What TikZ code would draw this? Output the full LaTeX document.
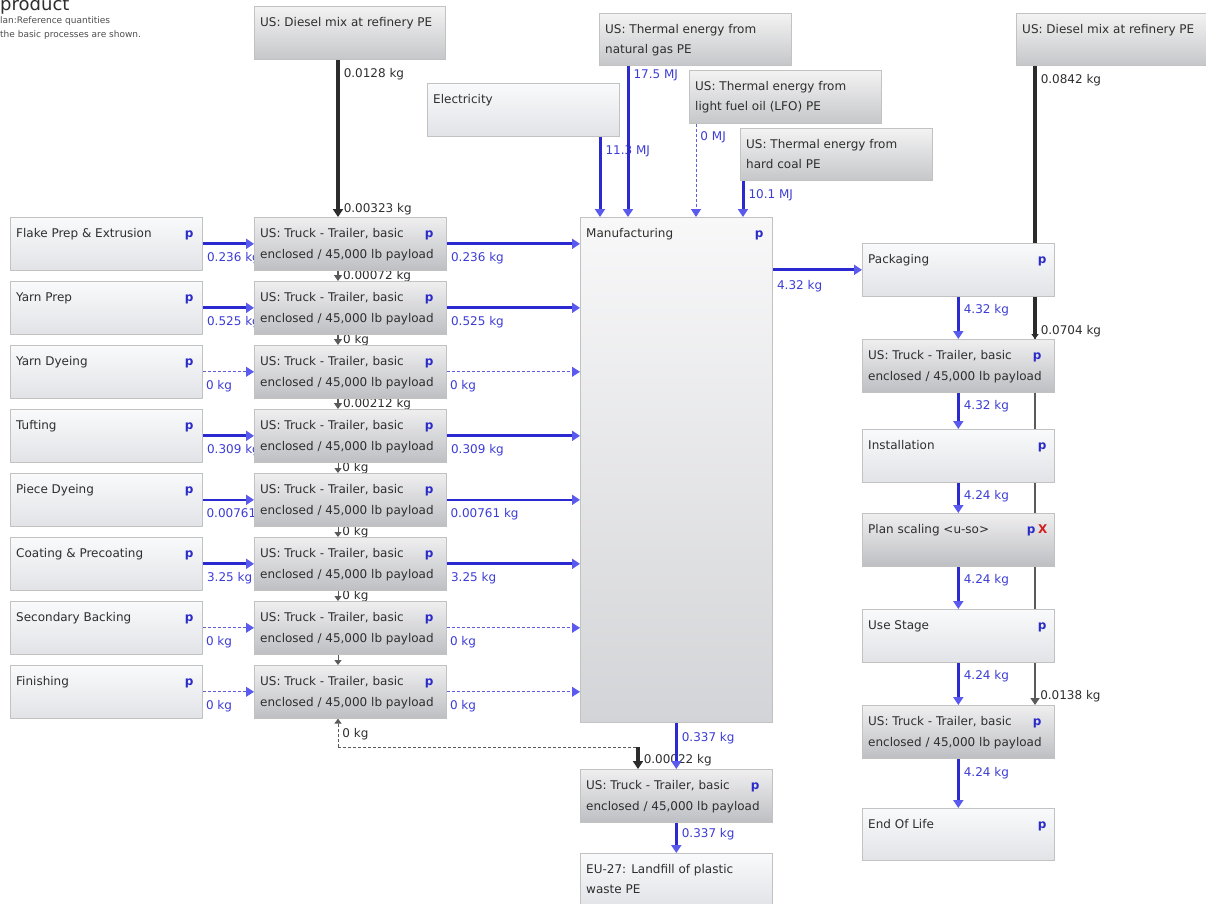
\documentclass[tikz,border=0pt]{standalone}
\usepackage{fontspec}
\setmainfont{DejaVu Sans}
\usetikzlibrary{arrows.meta,calc}
\pgfdeclarelayer{bg}
\pgfsetlayers{bg,main}
\definecolor{txtc}{HTML}{2E2E2E}
\definecolor{pblue}{HTML}{2B2BC8}
\definecolor{flow}{HTML}{2A2AD0}
\definecolor{tipblue}{HTML}{5A5AEE}
\definecolor{lblblue}{HTML}{3C3CD6}
\definecolor{dsl}{HTML}{2C2C2C}
\definecolor{dsl2}{HTML}{5A5A5A}
\definecolor{bord}{HTML}{C2C2C2}
\definecolor{xred}{HTML}{D02020}
\definecolor{procT}{HTML}{F9FAFB}
\definecolor{procB}{HTML}{E1E3E7}
\definecolor{trkT}{HTML}{EFEFF0}
\definecolor{trkB}{HTML}{BEBFC3}
\definecolor{mfgT}{HTML}{F8F8F9}
\definecolor{mfgB}{HTML}{D3D4D7}
\definecolor{dslT}{HTML}{F3F3F3}
\definecolor{dslB}{HTML}{C6C7CA}
\newcommand\mkbox[6]{\node[#6, minimum width=#4, minimum height=#5] (#1) at (#2,#3) {};}
\newcommand\Lone[3]{\node[tx] at ($(#1.north west)+(6,#2)$) {#3};}
\newcommand\Pmark[2]{\node[pp] at ($(#1.north east)+(-#2,20)$) {p};}
\begin{document}
\begin{tikzpicture}[x=1pt,y=-1pt,
  bxbase/.style={draw=bord, line width=0.6pt, anchor=north west, inner sep=0},
  procbx/.style={bxbase, top color=procT, bottom color=procB},
  trkbx/.style={bxbase, top color=trkT, bottom color=trkB},
  mfgbx/.style={bxbase, top color=mfgT, bottom color=mfgB},
  dslbx/.style={bxbase, top color=dslT, bottom color=dslB},
  tx/.style={anchor=base west, inner sep=0, text=txtc, font=\fontsize{12}{14}\selectfont},
  pp/.style={anchor=base east, inner sep=0, text=pblue, font=\bfseries\fontsize{12}{14}\selectfont},
  lbB/.style={text=lblblue, font=\fontsize{12}{14}\selectfont},
  lbD/.style={text=txtc, font=\fontsize{12}{14}\selectfont},
  atS/.style={pos=0, anchor=base west, xshift=4pt, yshift=-17pt, inner sep=0},
  atE/.style={pos=1, anchor=base west, xshift=4pt, yshift=5pt, inner sep=0},
  atH/.style={pos=0, anchor=base west, xshift=3pt, yshift=-18pt, inner sep=0},
  fl/.style={draw=flow, line width=3pt, -{Triangle[width=10pt,length=8pt,color=tipblue]}, nodes={lbB}},
  flthin/.style={fl, line width=2pt},
  flZ/.style={draw=flow!75!white, line width=0.9pt, dash pattern=on 3pt off 2pt, -{Triangle[width=10pt,length=8pt,color=tipblue]}, nodes={lbB}},
  dsA/.style={draw=dsl, line width=3.5pt, -{Triangle[width=10pt,length=8pt,color=dsl]}, nodes={lbD}},
  dsB/.style={draw=dsl2, line width=2.5pt, -{Triangle[width=9pt,length=7pt,color=dsl2]}, nodes={lbD}},
  dsC/.style={draw=dsl2, line width=2.2pt, -{Triangle[width=8pt,length=6pt,color=dsl2]}, nodes={lbD}},
  dsT/.style={draw=dsl2, line width=0.9pt, -{Triangle[width=7pt,length=5pt,color=dsl2]}, nodes={lbD}},
  dsZ/.style={draw=dsl2, line width=0.9pt, dash pattern=on 3pt off 2pt, nodes={lbD}},
]
\useasboundingbox (0,0) rectangle (1206,903);

% ---------- title fragments ----------
\node[anchor=base west, inner sep=0, text=txtc, font=\fontsize{18}{20}\selectfont] (ttl) at (0,10) {product};
\node[anchor=base west, inner sep=0, text=txtc!85, font=\fontsize{9}{10}\selectfont] (ttl2) at (0,23) {lan:Reference quantities};
\node[anchor=base west, inner sep=0, text=txtc!85, font=\fontsize{9}{10}\selectfont] (ttl3) at (0,37) {the basic processes are shown.};

% ---------- left process boxes ----------
\mkbox{flake}{10}{217}{192}{53}{procbx}
\mkbox{yprep}{10}{281}{192}{53}{procbx}
\mkbox{ydye}{10}{345}{192}{53}{procbx}
\mkbox{tuft}{10}{409}{192}{53}{procbx}
\mkbox{piece}{10}{473}{192}{53}{procbx}
\mkbox{coat}{10}{537}{192}{53}{procbx}
\mkbox{second}{10}{601}{192}{53}{procbx}
\mkbox{finish}{10}{665}{192}{53}{procbx}
\Lone{flake}{20}{Flake Prep \& Extrusion}\Pmark{flake}{9}
\Lone{yprep}{20}{Yarn Prep}\Pmark{yprep}{9}
\Lone{ydye}{20}{Yarn Dyeing}\Pmark{ydye}{9}
\Lone{tuft}{20}{Tufting}\Pmark{tuft}{9}
\Lone{piece}{20}{Piece Dyeing}\Pmark{piece}{9}
\Lone{coat}{20}{Coating \& Precoating}\Pmark{coat}{9}
\Lone{second}{20}{Secondary Backing}\Pmark{second}{9}
\Lone{finish}{20}{Finishing}\Pmark{finish}{9}

% ---------- trucks (left) ----------
\foreach \i/\y in {1/217,2/281,3/345,4/409,5/473,6/537,7/601,8/665}{
  \mkbox{t\i}{254}{\y}{192}{53}{trkbx}
  \Lone{t\i}{20}{US: Truck - Trailer, basic}
  \Lone{t\i}{41}{enclosed / 45,000 lb payload}
  \Pmark{t\i}{13}
}

% ---------- top sources ----------
\mkbox{dieselL}{254}{6}{191}{53}{dslbx}
\Lone{dieselL}{20}{US: Diesel mix at refinery PE}
\mkbox{elec}{427}{83}{192}{53}{procbx}
\Lone{elec}{20}{Electricity}
\mkbox{ng}{599}{13}{192}{52}{dslbx}
\Lone{ng}{20}{US: Thermal energy from}
\Lone{ng}{40}{natural gas PE}
\mkbox{lfo}{689}{70}{192}{53}{dslbx}
\Lone{lfo}{20}{US: Thermal energy from}
\Lone{lfo}{40}{light fuel oil (LFO) PE}
\mkbox{hc}{740}{128}{192}{52}{dslbx}
\Lone{hc}{20}{US: Thermal energy from}
\Lone{hc}{40}{hard coal PE}
\mkbox{dieselR}{1016}{13}{192}{52}{dslbx}
\Lone{dieselR}{20}{US: Diesel mix at refinery PE}

% ---------- manufacturing ----------
\mkbox{manuf}{580}{217}{192}{505}{mfgbx}
\Lone{manuf}{20}{Manufacturing}\Pmark{manuf}{9}

% ---------- bottom ----------
\mkbox{btruck}{580}{769}{192}{53}{trkbx}
\Lone{btruck}{20}{US: Truck - Trailer, basic}
\Lone{btruck}{41}{enclosed / 45,000 lb payload}
\Pmark{btruck}{13}
\mkbox{landfill}{580}{853}{192}{53}{procbx}
\Lone{landfill}{20}{EU-27: Landfill of plastic}
\Lone{landfill}{40}{waste PE}

% ---------- right column ----------
\mkbox{pack}{862}{243}{192}{53}{procbx}
\Lone{pack}{20}{Packaging}\Pmark{pack}{8}
\mkbox{tr1}{862}{339}{192}{53}{trkbx}
\Lone{tr1}{20}{US: Truck - Trailer, basic}
\Lone{tr1}{41}{enclosed / 45,000 lb payload}
\Pmark{tr1}{13}
\mkbox{inst}{862}{429}{192}{53}{procbx}
\Lone{inst}{20}{Installation}\Pmark{inst}{8}
\mkbox{plan}{862}{513}{192}{53}{trkbx}
\Lone{plan}{20}{Plan scaling <u-so>}
\node[pp] (planp) at ($(plan.north east)+(-19,20)$) {p};
\node[anchor=base east, inner sep=0, text=xred, font=\bfseries\fontsize{12}{14}\selectfont] (planx) at ($(plan.north east)+(-7,20)$) {X};
\mkbox{use}{862}{609}{192}{53}{procbx}
\Lone{use}{20}{Use Stage}\Pmark{use}{8}
\mkbox{tr2}{862}{705}{192}{53}{trkbx}
\Lone{tr2}{20}{US: Truck - Trailer, basic}
\Lone{tr2}{41}{enclosed / 45,000 lb payload}
\Pmark{tr2}{13}
\mkbox{eol}{862}{808}{192}{52}{procbx}
\Lone{eol}{20}{End Of Life}\Pmark{eol}{8}

% ---------- helper x positions ----------
\coordinate (xd) at (338,0);
\coordinate (xe) at (600,0);
\coordinate (xg) at (628,0);
\coordinate (xl) at (696,0);
\coordinate (xh) at (743,0);
\coordinate (xr) at (1035,0);
\coordinate (c1) at (338,747);
\coordinate (c2) at (638,747);

\begin{pgfonlayer}{bg}
% process -> truck
\draw[fl] (flake.east) -- (t1.west) node[atH]{0.236 kg};
\draw[fl] (yprep.east) -- (t2.west) node[atH]{0.525 kg};
\draw[flZ] (ydye.east) -- (t3.west) node[atH]{0 kg};
\draw[fl] (tuft.east) -- (t4.west) node[atH]{0.309 kg};
\draw[flthin] (piece.east) -- (t5.west) node[atH]{0.00761 kg};
\draw[fl] (coat.east) -- (t6.west) node[atH]{3.25 kg};
\draw[flZ] (second.east) -- (t7.west) node[atH]{0 kg};
\draw[flZ] (finish.east) -- (t8.west) node[atH]{0 kg};
% truck -> manufacturing
\draw[fl] (t1.east) -- (t1.east -| manuf.west) node[atH]{0.236 kg};
\draw[fl] (t2.east) -- (t2.east -| manuf.west) node[atH]{0.525 kg};
\draw[flZ] (t3.east) -- (t3.east -| manuf.west) node[atH]{0 kg};
\draw[fl] (t4.east) -- (t4.east -| manuf.west) node[atH]{0.309 kg};
\draw[flthin] (t5.east) -- (t5.east -| manuf.west) node[atH]{0.00761 kg};
\draw[fl] (t6.east) -- (t6.east -| manuf.west) node[atH]{3.25 kg};
\draw[flZ] (t7.east) -- (t7.east -| manuf.west) node[atH]{0 kg};
\draw[flZ] (t8.east) -- (t8.east -| manuf.west) node[atH]{0 kg};
% energy
\draw[fl] (elec.south -| xe) -- (manuf.north -| xe) node[atS, yshift=-1pt]{11.3 MJ};
\draw[fl] (ng.south -| xg) -- (manuf.north -| xg) node[atS, yshift=4pt]{17.5 MJ};
\draw[flZ] (lfo.south -| xl) -- (manuf.north -| xl) node[atS]{0 MJ};
\draw[fl] (hc.south -| xh) -- (manuf.north -| xh) node[atS, yshift=-1pt]{10.1 MJ};
% diesel left chain
\draw[dsA] (dieselL.south -| xd) -- (t1.north -| xd) node[atS, yshift=-1pt]{0.0128 kg} node[atE]{0.00323 kg};
\draw[dsC] (t1.south -| xd) -- (t2.north -| xd) node[atE, yshift=-3pt]{0.00072 kg};
\draw[dsC] (t2.south -| xd) -- (t3.north -| xd) node[atE, yshift=-3pt]{0 kg};
\draw[dsC] (t3.south -| xd) -- (t4.north -| xd) node[atE, yshift=-3pt]{0.00212 kg};
\draw[dsT] (t4.south -| xd) -- (t5.north -| xd) node[atE, yshift=-3pt]{0 kg};
\draw[dsT] (t5.south -| xd) -- (t6.north -| xd) node[atE, yshift=-3pt]{0 kg};
\draw[dsT] (t6.south -| xd) -- (t7.north -| xd) node[atE, yshift=-3pt]{0 kg};
\draw[dsT] (t7.south -| xd) -- (t8.north -| xd);
\draw[dsZ, -{Triangle[width=7pt,length=5pt,color=dsl2]}] (c1) -- (t8.south -| c1) node[pos=0, anchor=base west, inner sep=0, xshift=4pt, yshift=10pt]{0 kg};
\draw[dsZ] (c1) -- (c2);
\draw[dsA] (c2) -- (btruck.north -| c2) node[atE, yshift=1pt]{0.00022 kg};
% manufacturing outputs
\draw[fl] (pack.west -| manuf.east) -- (pack.west) node[atH, yshift=-2pt]{4.32 kg};
\draw[fl] (manuf.south -| btruck.north) -- (btruck.north) node[atS, yshift=-2pt]{0.337 kg};
\draw[fl] (btruck.south) -- (landfill.north) node[atS, yshift=2pt]{0.337 kg};
% right chain
\draw[fl] (pack.south) -- (tr1.north) node[atS]{4.32 kg};
\draw[fl] (tr1.south) -- (inst.north) node[atS]{4.32 kg};
\draw[fl] (inst.south) -- (plan.north) node[atS]{4.24 kg};
\draw[fl] (plan.south) -- (use.north) node[atS]{4.24 kg};
\draw[fl] (use.south) -- (tr2.north) node[atS]{4.24 kg};
\draw[fl] (tr2.south) -- (eol.north) node[atS, yshift=-1pt]{4.24 kg};
% diesel right
\draw[dsB] (dieselR.south -| xr) -- (tr2.north -| xr) node[atE, yshift=1pt]{0.0138 kg};
\draw[dsA, -{Triangle[width=7pt,length=5pt,color=dsl]}] (dieselR.south -| xr) -- (tr1.north -| xr) node[atS, yshift=-1pt]{0.0842 kg} node[atE]{0.0704 kg};
\end{pgfonlayer}
\end{tikzpicture}
\end{document}
